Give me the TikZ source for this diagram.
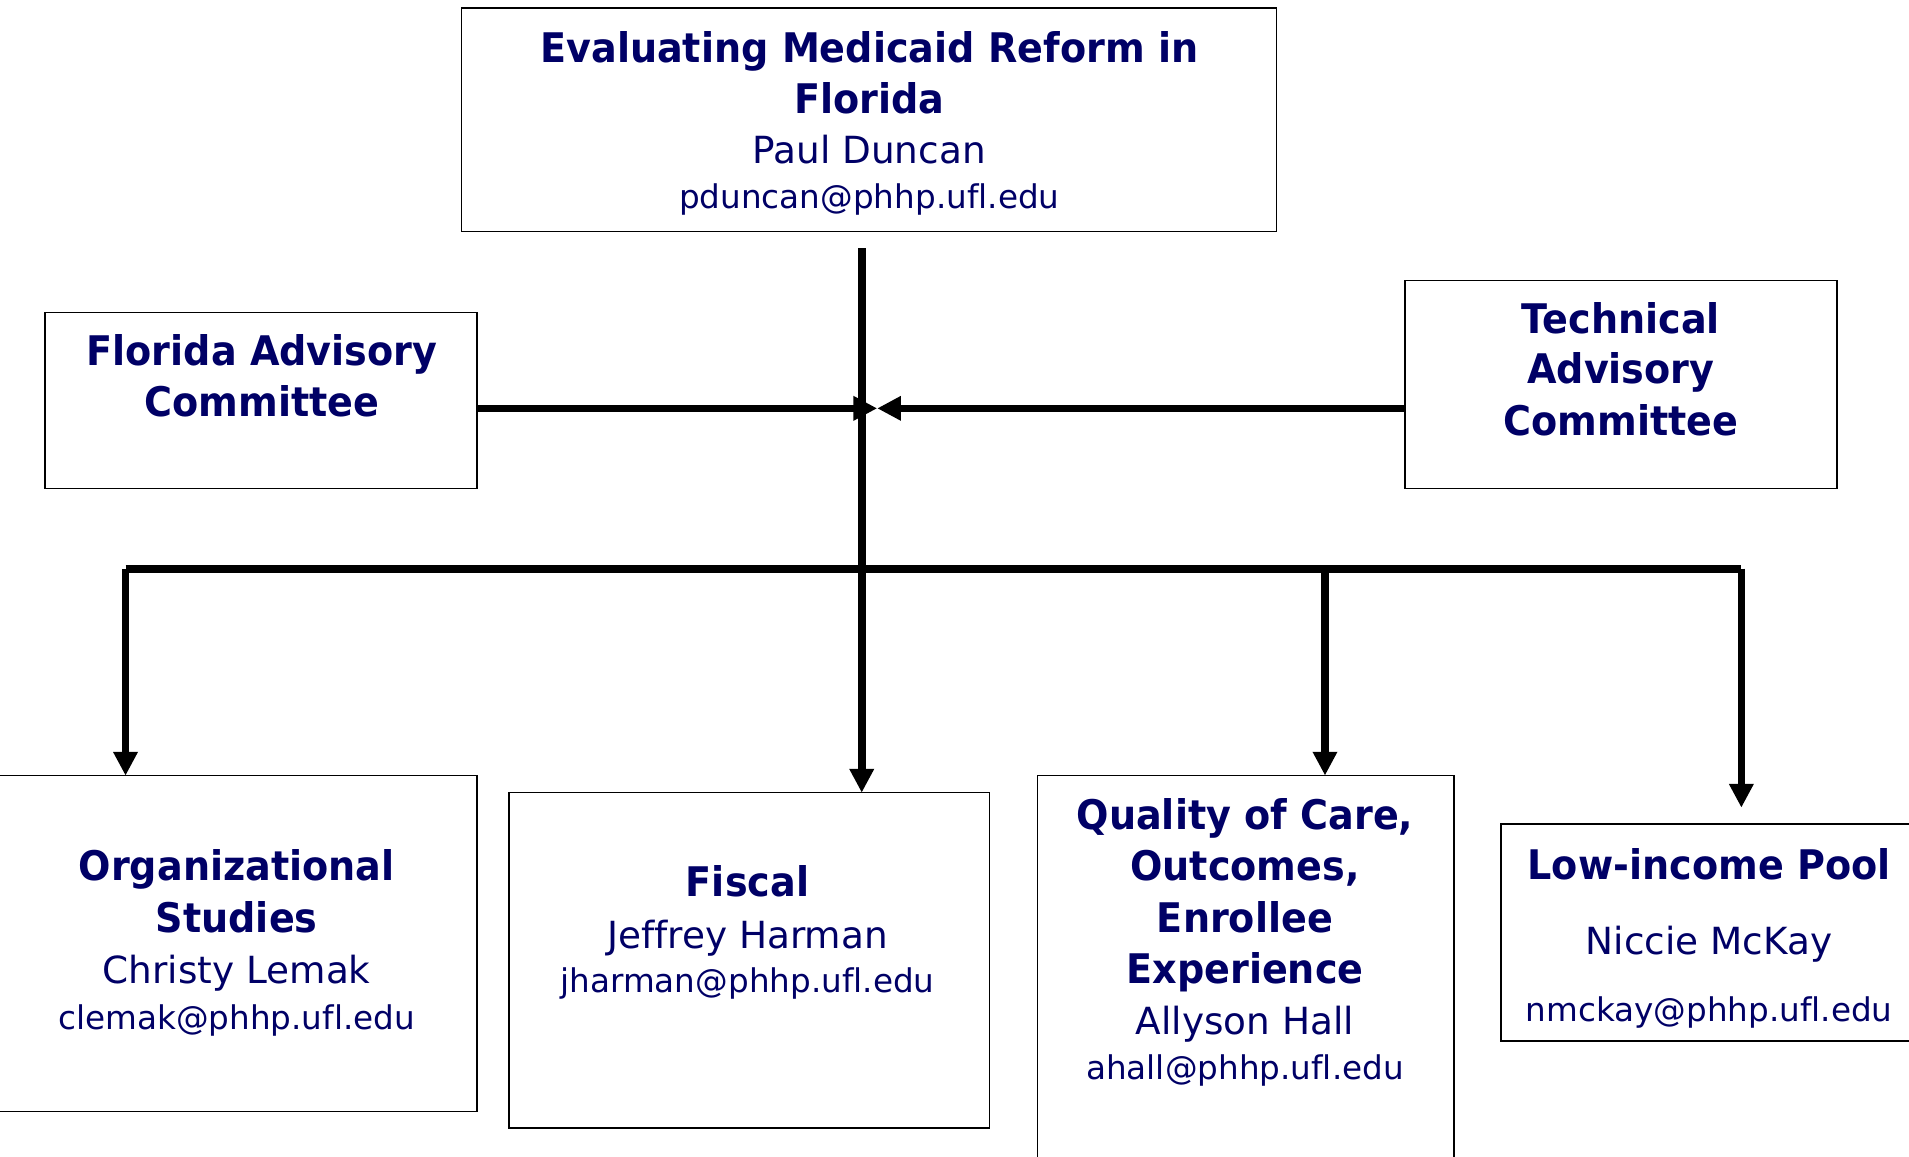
\documentclass[tikz,border=0pt]{standalone}
\usepackage{fontspec}
\setmainfont{DejaVu Sans}[Ligatures=NoCommon]
\newfontfamily\hdfont{DejaVu Sans}[FakeStretch=0.935, Ligatures=NoCommon]
\usetikzlibrary{arrows.meta}
\definecolor{navy}{RGB}{0,0,102}
\tikzset{
  ubox/.style={draw=black, line width=1.3pt, fill=none, inner sep=0pt, outer sep=0pt},
  conn/.style={line width=6.3pt, black, line cap=butt},
  arr/.style={conn, -{Triangle[length=19.5pt, width=19pt]}},
  tb/.style={anchor=base, inner sep=0pt, text=navy, font=\hdfont\bfseries\fontsize{33.5}{40}\selectfont},
  tr/.style={anchor=base, inner sep=0pt, text=navy, font=\fontsize{30.7}{37}\selectfont},
  te/.style={anchor=base, inner sep=0pt, text=navy, font=\fontsize{26.8}{32}\selectfont}
}
\begin{document}
\begin{tikzpicture}[x=1pt, y=-1pt]
\useasboundingbox (0,0) rectangle (1568,950);
\clip (0,0) rectangle (1568,950);

% boxes
\node[ubox, minimum width=669.4pt, minimum height=183.5pt] (top) at (713.9,98.55) {};
\node[ubox, minimum width=355pt, minimum height=144.3pt] (fac) at (214.5,328.95) {};
\node[ubox, minimum width=355pt, minimum height=170.6pt] (tac) at (1331.5,315.8) {};
\node[ubox, minimum width=402pt, minimum height=276pt] (org) at (191,775.1) {};
\node[ubox, minimum width=394.6pt, minimum height=275.6pt] (fiscal) at (615.3,788.9) {};
\node[ubox, minimum width=342.3pt, minimum height=333pt] (quality) at (1023.15,803.5) {};
\node[ubox, minimum width=357pt, minimum height=178pt] (low) at (1411.5,766) {};

% texts: top
\node[tb] (top1) at (714,51.2) {Evaluating Medicaid Reform in};
\node[tb] (top2) at (714,93.1) {Florida};
\node[tr] (top3) at (714,134.7) {Paul Duncan};
\node[te] (top4) at (714,171.1) {pduncan@phhp.ufl.edu};
% Florida advisory
\node[tb] (fac1) at (215.2,299.8) {Florida Advisory};
\node[tb] (fac2) at (215.2,341.7) {Committee};
% Technical advisory
\node[tb] (tac1) at (1331.3,273.8) {Technical};
\node[tb] (tac2) at (1331.3,315.4) {Advisory};
\node[tb] (tac3) at (1331.3,357.8) {Committee};
% Organizational
\node[tb] (org1) at (194.4,723.4) {Organizational};
\node[tb] (org2) at (194.4,766.1) {Studies};
\node[tr] (org3) at (194.4,807.7) {Christy Lemak};
\node[te] (org4) at (194.4,845.4) {clemak@phhp.ufl.edu};
% Fiscal
\node[tb] (fis1) at (614,736.5) {Fiscal};
\node[tr] (fis2) at (614,778.9) {Jeffrey Harman};
\node[te] (fis3) at (614,815.4) {jharman@phhp.ufl.edu};
% Quality
\node[tb] (qua1) at (1022.6,681.7) {Quality of Care,};
\node[tb] (qua2) at (1022.6,723.4) {Outcomes,};
\node[tb] (qua3) at (1022.6,766) {Enrollee};
\node[tb] (qua4) at (1022.6,807.7) {Experience};
\node[tr] (qua5) at (1022.6,850) {Allyson Hall};
\node[te] (qua6) at (1022.6,887) {ahall@phhp.ufl.edu};
% Low-income
\node[tb] (low1) at (1403.8,722) {Low-income Pool};
\node[tr] (low2) at (1403.8,784.4) {Niccie McKay};
\node[te] (low3) at (1403.8,839.2) {nmckay@phhp.ufl.edu};

% connector coordinates
\coordinate (trunktop) at (707.8,204);
\coordinate (jn) at (720.5,335.4);
\coordinate (busL) at (103.1,467.1);
\coordinate (busQ) at (1088.3,467.1);
\coordinate (busR) at (1430.3,467.1);
\coordinate (lowtip) at (1430.3,663.4);

% connectors
\draw[arr] (trunktop) -- (trunktop |- fiscal.north);
\draw[arr] (fac.east |- jn) -- (jn);
\draw[arr] (tac.west |- jn) -- (jn);
\draw[conn] (busL) -- (busR);
\draw[arr] (busL) -- (busL |- org.north);
\draw[arr] (busQ) -- (busQ |- quality.north);
\draw[arr] (busR) -- (lowtip);
\end{tikzpicture}
\end{document}
